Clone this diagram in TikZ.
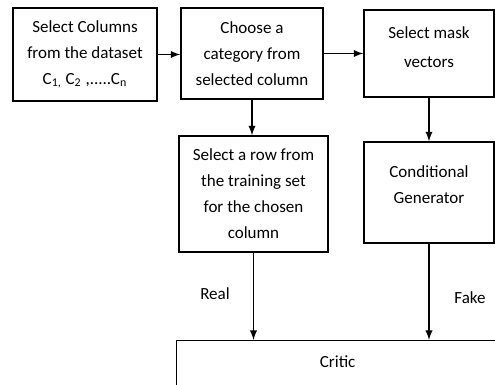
\documentclass[tikz,border=0pt]{standalone}
\usepackage{fontspec}
\setmainfont{Carlito}
\usetikzlibrary{arrows}

\begin{document}
\begin{tikzpicture}[x=0.5pt,y=-0.5pt,
    box/.style={draw,line width=0.65pt,align=center,inner sep=0pt,
      font=\fontsize{8.5}{13}\selectfont},
    lbl/.style={font=\fontsize{8.5}{13}\selectfont},
    arr/.style={-latex,line width=0.65pt}]
  \useasboundingbox (0,0) rectangle (495,385);
  \clip (0,0) rectangle (495,385);

  \node[box,minimum width=72pt,minimum height=46.5pt] (cols) at (85,54.5)
    {Select Columns\\from the dataset\\C\textsubscript{1,} C\textsubscript{2} ,.....C\textsubscript{n}};
  \node[box,minimum width=71pt,minimum height=45.5pt] (cat) at (252,53.5)
    {Choose a\\category from\\selected column};
  \node[box,minimum width=65pt,minimum height=43.5pt] (mask) at (429,53.5)
    {Select mask\\[1.5pt]vectors\\[-7pt]};
  \node[box,minimum width=74.5pt,minimum height=58pt] (row) at (253.5,194)
    {Select a row from\\the training set\\for the chosen\\column};
  \node[box,minimum width=65pt,minimum height=50.5pt] (gen) at (429,192.5)
    {Conditional\\Generator\\[-5.5pt]};
  \node[box,anchor=north west,text width=170pt,text height=13.5pt,text depth=40pt] (critic) at (176,340)
    {\hspace*{-9pt}Critic};

  \draw[arr] (cols.east) -- (cat.west |- cols.east);
  \draw[arr] (cat.east) -- (mask.west |- cat.east);
  \draw[arr] (cat.south) -- (cat.south |- row.north);
  \draw[arr] (mask.south) -- (mask.south |- gen.north);
  \draw[arr] (row.south) -- (row.south |- critic.north);
  \draw[arr] (gen.south) -- (gen.south |- critic.north);

  \node[lbl] (real) at (215,294) {Real};
  \node[lbl] (fake) at (470,298) {Fake};
\end{tikzpicture}
\end{document}
